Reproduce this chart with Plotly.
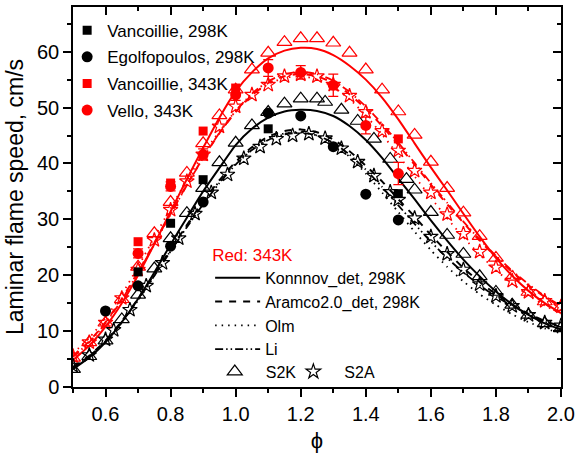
import plotly.graph_objects as go

# ---------------- data ----------------
phi = [0.5, 0.55, 0.6, 0.65, 0.7, 0.75, 0.8, 0.85, 0.9, 0.95, 1.0, 1.05, 1.1, 1.15, 1.2, 1.25,
       1.3, 1.35, 1.4, 1.45, 1.5, 1.55, 1.6, 1.65, 1.7, 1.75, 1.8, 1.85, 1.9, 1.95, 2.0]

konnov_298 = [3.2, 5.3, 8.0, 11.6, 15.8, 20.5, 25.5, 30.3, 35.0, 39.2, 43.3, 46.2, 48.2, 49.3, 49.6, 49.4,
              48.5, 46.7, 44.2, 41.0, 37.3, 33.6, 29.8, 26.2, 22.8, 19.8, 17.1, 14.8, 12.9, 11.4, 10.3]
aramco_298 = [3.6, 5.6, 8.3, 11.8, 15.8, 20.2, 24.6, 29.0, 33.2, 37.0, 40.3, 42.9, 44.8, 45.8, 46.1, 45.6,
              44.3, 42.2, 39.6, 36.8, 33.6, 30.5, 27.2, 24.2, 21.3, 18.8, 16.6, 14.7, 13.1, 11.8, 10.8]
olm_298 = [3.4, 5.4, 8.1, 11.5, 15.5, 19.9, 24.4, 28.8, 33.0, 36.8, 40.0, 42.6, 44.4, 45.4, 45.6, 45.0,
           43.5, 41.2, 38.2, 34.8, 31.3, 27.8, 24.5, 21.5, 18.9, 16.6, 14.7, 13.0, 11.6, 10.5, 9.6]
li_298 = [3.5, 5.5, 8.2, 11.6, 15.6, 19.9, 24.3, 28.6, 32.7, 36.5, 39.8, 42.4, 44.2, 45.2, 45.5, 45.0,
          43.7, 41.6, 38.9, 35.8, 32.5, 29.2, 26.0, 23.1, 20.5, 18.2, 16.2, 14.5, 13.0, 11.7, 10.7]

konnov_343 = [4.8, 7.4, 10.8, 15.0, 20.0, 25.6, 31.4, 37.2, 42.8, 48.2, 52.9, 56.3, 58.8, 60.2, 60.7, 60.5,
              59.4, 57.5, 55.0, 51.8, 47.9, 43.6, 39.3, 35.2, 31.0, 26.9, 23.1, 19.9, 17.2, 15.0, 13.2]
aramco_343 = [5.6, 8.2, 11.6, 15.8, 20.6, 25.8, 31.0, 36.2, 41.0, 45.4, 49.2, 52.2, 54.4, 55.6, 56.0, 55.6,
              54.4, 52.4, 49.8, 46.7, 43.3, 39.8, 36.2, 32.7, 29.4, 26.2, 23.3, 20.6, 18.2, 16.1, 14.3]
olm_343 = [6.0, 8.8, 12.3, 16.6, 21.5, 26.8, 32.0, 37.0, 41.6, 45.8, 49.4, 52.2, 54.2, 55.3, 55.6, 55.1,
           53.7, 51.5, 48.6, 45.2, 41.5, 37.7, 33.9, 30.2, 26.8, 23.7, 20.9, 18.5, 16.4, 14.6, 13.1]
li_343 = [5.4, 8.0, 11.4, 15.6, 20.4, 25.6, 30.9, 36.1, 41.0, 45.5, 49.4, 52.5, 54.7, 56.0, 56.4, 56.0,
          54.8, 52.8, 50.2, 47.1, 43.7, 40.1, 36.5, 33.0, 29.6, 26.4, 23.5, 20.8, 18.4, 16.3, 14.5]

s2k_298_x = [0.5, 0.55, 0.6, 0.65, 0.7, 0.75, 0.8, 0.85, 0.9, 0.95, 1.0, 1.05, 1.1, 1.15, 1.2, 1.25, 1.275,
             1.325, 1.375, 1.425, 1.475, 1.525, 1.55, 1.6, 1.65, 1.7, 1.75, 1.8, 1.85, 1.9, 1.95, 2.0]
s2k_298_y = [3.2, 5.5, 8.3, 12.1, 16.5, 21.2, 26.6, 31.1, 35.6, 40.2, 43.7, 46.8, 49.2, 50.7, 51.6, 51.6, 51.0,
             49.6, 47.6, 44.4, 40.8, 37.2, 35.3, 31.3, 27.2, 23.8, 19.8, 17.0, 14.7, 12.9, 11.4, 10.5]
s2k_343_y = [5.2, 8.0, 11.5, 15.7, 21.5, 27.5, 33.1, 38.3, 43.6, 48.6, 53.2, 56.8, 59.8, 61.7, 62.4, 62.4,
             61.6, 59.8, 56.8, 53.2, 49.3, 45.1, 40.3, 35.6, 31.2, 27.0, 23.1, 19.7, 17.0, 15.3, 14.3]

s2a_298_x = [0.5, 0.55, 0.6, 0.625, 0.675, 0.725, 0.775, 0.825, 0.875, 0.925, 0.975, 1.025, 1.075, 1.125,
             1.175, 1.225, 1.275, 1.325, 1.375, 1.425, 1.475, 1.5, 1.55, 1.6, 1.65, 1.7, 1.75, 1.8, 1.85,
             1.9, 1.95, 2.0]
s2a_298_y = [3.8, 5.7, 8.5, 10.2, 13.8, 18.1, 22.2, 26.6, 31.0, 34.8, 38.0, 40.9, 43.0, 44.4, 45.0, 45.3,
             44.5, 42.7, 40.3, 37.8, 34.9, 33.5, 30.2, 26.9, 23.8, 21.0, 18.4, 16.3, 14.5, 12.9, 11.5, 11.0]
s2a_343_y = [5.5, 8.0, 11.5, 15.9, 21.0, 26.3, 31.7, 36.8, 41.6, 46.6, 50.2, 52.3, 54.1, 55.6, 55.9, 55.6,
             54.1, 52.1, 49.2, 45.8, 42.3, 38.7, 34.8, 30.9, 27.4, 24.2, 21.4, 19.0, 17.0, 15.4, 14.4]

van298_x = [0.7, 0.8, 0.9, 1.1, 1.5]
van298_y = [20.6, 29.3, 37.1, 46.2, 34.6]
ego298_x = [0.6, 0.7, 0.8, 0.9, 1.1, 1.2, 1.3, 1.4, 1.5]
ego298_y = [13.6, 18.1, 25.2, 33.1, 49.0, 48.5, 43.0, 34.5, 29.9]
van343_x = [0.7, 0.8, 0.9, 1.0, 1.5]
van343_y = [26.0, 36.5, 45.8, 53.5, 44.4]
vello_x = [0.7, 0.8, 0.9, 1.0, 1.1, 1.2, 1.3, 1.4, 1.5]
vello_y = [23.9, 35.9, 41.6, 52.3, 57.1, 56.3, 54.0, 46.8, 38.2]
vello_err = [0.8, 0.8, 1.0, 1.0, 1.5, 1.2, 2.0, 1.5, 2.0]

BLACK = "#000000"
RED = "#FF0000"
FONT = "Arial, Liberation Sans, sans-serif"

fig = go.Figure()

def model(y, color, dash, width, name, legend_show):
    fig.add_trace(go.Scatter(
        x=phi, y=y, mode="lines", name=name,
        line=dict(color=color, dash=dash, width=width, shape="spline", smoothing=0.6),
        showlegend=legend_show, legend="legend2"))

DASH = "7px,7px"
DOT = "1.5px,5px"
DDD = "8px,3px,1.5px,3px,1.5px,3px"
model(konnov_343, RED, "solid", 2, "Konnnov_det, 298K", False)
model(aramco_343, RED, DASH, 2, "Aramco2.0_det, 298K", False)
model(olm_343, RED, DOT, 1.8, "Olm", False)
model(li_343, RED, DDD, 1.8, "Li", False)
model(konnov_298, BLACK, "solid", 2, "Konnnov_det, 298K", True)
model(aramco_298, BLACK, DASH, 2, "Aramco2.0_det, 298K", True)
model(olm_298, BLACK, DOT, 1.8, "Olm", True)
model(li_298, BLACK, DDD, 1.8, "Li", True)

# skeletal mechanisms
fig.add_trace(go.Scatter(x=phi, y=s2k_343_y, mode="markers", name="S2K", showlegend=False,
                         marker=dict(symbol="triangle-up-open", size=13, color=RED, line=dict(width=1.2))))
fig.add_trace(go.Scatter(x=phi, y=s2a_343_y, mode="markers", name="S2A", showlegend=False,
                         marker=dict(symbol="star-open", size=11, color=RED, line=dict(width=1.2))))
fig.add_trace(go.Scatter(x=s2k_298_x, y=s2k_298_y, mode="markers", name="S2K", legend="legend3",
                         marker=dict(symbol="triangle-up-open", size=13, color=BLACK, line=dict(width=1.2))))
fig.add_trace(go.Scatter(x=s2a_298_x, y=s2a_298_y, mode="markers", name="S2A", legend="legend4",
                         marker=dict(symbol="star-open", size=11, color=BLACK, line=dict(width=1.2))))

# experiments
fig.add_trace(go.Scatter(x=van298_x, y=van298_y, mode="markers", name="Vancoillie, 298K", legendgroup="e1",
                         marker=dict(symbol="square", size=9, color=BLACK)))
fig.add_trace(go.Scatter(x=ego298_x, y=ego298_y, mode="markers", name="Egolfopoulos, 298K", legendgroup="e2",
                         marker=dict(symbol="circle", size=11, color=BLACK)))
fig.add_trace(go.Scatter(x=van343_x, y=van343_y, mode="markers", name="Vancoillie, 343K", legendgroup="e3",
                         marker=dict(symbol="square", size=9, color=RED)))
fig.add_trace(go.Scatter(x=vello_x, y=vello_y, mode="markers", name="Vello, 343K", legendgroup="e4",
                         error_y=dict(type="data", array=vello_err, color=RED, thickness=1.3, width=5),
                         marker=dict(symbol="circle", size=11, color=RED)))

# invisible trace for mirrored (inward-ticked) axes
fig.add_trace(go.Scatter(x=[0.5], y=[0], xaxis="x2", yaxis="y2", mode="markers",
                         marker=dict(opacity=0), showlegend=False, hoverinfo="skip"))

axis_common = dict(showline=True, linecolor=BLACK, linewidth=1.5, showgrid=False, zeroline=False,
                   ticks="outside", ticklen=8, tickwidth=1.5, tickcolor=BLACK,
                   tickfont=dict(family=FONT, size=20, color=BLACK))

fig.update_layout(
    width=582, height=462,
    margin=dict(l=73, r=14, t=7, b=75),
    paper_bgcolor="white", plot_bgcolor="white",
    font=dict(family=FONT, color=BLACK),
    xaxis=dict(range=[0.5, 2.0], dtick=0.2, tick0=0, tickformat=".1f",
               minor=dict(dtick=0.1, ticklen=4, tickwidth=1.5, tickcolor=BLACK, ticks="outside"),
               title=dict(text="ϕ", font=dict(family=FONT, size=22), standoff=9),
               **axis_common),
    yaxis=dict(range=[0, 68], dtick=10, tick0=0,
               minor=dict(dtick=5, ticklen=4, tickwidth=1.5, tickcolor=BLACK, ticks="outside"),
               title=dict(text="Laminar flame speed, cm/s", font=dict(family=FONT, size=23), standoff=7),
               **axis_common),
    xaxis2=dict(overlaying="x", side="top", anchor="y", matches="x", range=[0.5, 2.0], dtick=0.2, tick0=0,
                showticklabels=False, showline=True, linecolor=BLACK, linewidth=1.5, showgrid=False,
                zeroline=False, ticks="inside", ticklen=8, tickwidth=1.5, tickcolor=BLACK,
                minor=dict(dtick=0.1, ticklen=4, tickwidth=1.5, tickcolor=BLACK, ticks="inside")),
    yaxis2=dict(overlaying="y", side="right", anchor="x", matches="y", range=[0, 68], dtick=10, tick0=0,
                showticklabels=False, showline=True, linecolor=BLACK, linewidth=1.5, showgrid=False,
                zeroline=False, ticks="inside", ticklen=8, tickwidth=1.5, tickcolor=BLACK,
                minor=dict(dtick=5, ticklen=4, tickwidth=1.5, tickcolor=BLACK, ticks="inside")),
    legend=dict(x=-0.012, y=0.985, xanchor="left", yanchor="top", bgcolor="rgba(0,0,0,0)",
                font=dict(family=FONT, size=17, color=BLACK), tracegroupgap=1.5),
    legend2=dict(x=0.281, y=0.39, xanchor="left", yanchor="top", bgcolor="rgba(0,0,0,0)",
                 itemwidth=45,
                 title=dict(text="Red: 343K", font=dict(family=FONT, size=17, color=RED)),
                 font=dict(family=FONT, size=16, color=BLACK)),
    legend3=dict(x=0.268, y=0.085, xanchor="left", yanchor="top", itemwidth=52,
                 bgcolor="rgba(0,0,0,0)", font=dict(family=FONT, size=16, color=BLACK)),
    legend4=dict(x=0.429, y=0.085, xanchor="left", yanchor="top", itemwidth=52,
                 bgcolor="rgba(0,0,0,0)", font=dict(family=FONT, size=16, color=BLACK)),
)

fig.write_html("out.html")
